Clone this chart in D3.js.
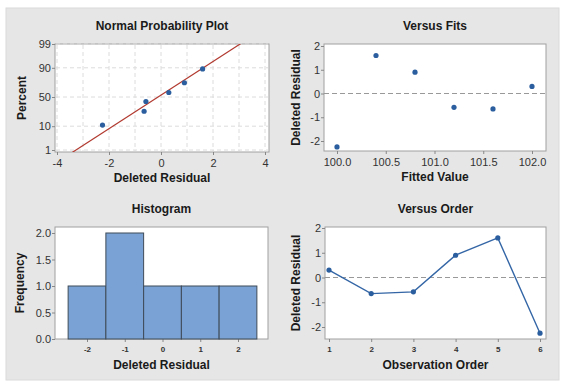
<!DOCTYPE html>
<html lang="en">
<head>
    <meta charset="UTF-8">
    <title>Residual Plots</title>
    <script src="https://d3js.org/d3.v7.min.js"></script>
    <style>
        body{
            margin: 0;
            background: #fff;
        }
        text {
            font-family: 'Liberation Sans', Arial, sans-serif;
        }
        .title, .axis-label {
            font-weight: bold;
            font-size: 12px;
            fill: #1a1a1a;
            text-anchor: middle;
        }
        .tick text {
            font-size: 11px;
            fill: #333;
        }
        .small .tick text {
            font-size: 8px;
            font-weight: bold;
        }
        .tick line {
            stroke: #888;
        }
        .frame {
            fill: #fff;
            stroke: #a0a0a0;
        }
        .grid {
            stroke: #dcdcdc;
            stroke-dasharray: 4,3;
        }
        .zero {
            stroke: #999;
            stroke-dasharray: 5,3;
        }
        .dot {
            fill: #2b5e9e;
        }
    </style>
</head>
<body>
    <svg id="chart"></svg>

    <script>
        // Deleted residuals in observation order
        const residuals = [0.3, -0.65, -0.58, 0.9, 1.6, -2.25];
        const observation = [1, 2, 3, 4, 5, 6];
        const fittedValues = [102.0, 101.6, 101.2, 100.8, 100.4, 100.0];

        // Normal probability plot: sorted residuals and plotted percent
        const npResiduals = [-2.25, -0.65, -0.58, 0.3, 0.9, 1.6];
        const npPercent = [10.9, 26.6, 42.2, 57.8, 73.4, 89.1];

        // Tick labels
        const percentTicks = [1, 10, 50, 90, 99];
        const npXTicks = [-4, -2, 0, 2, 4];
        const fitTicks = [100.0, 100.5, 101.0, 101.5, 102.0];
        const residTicks = [-2, -1, 0, 1, 2];
        const freqTicks = [0, 0.5, 1, 1.5, 2];
        const binCenters = [-2, -1, 0, 1, 2];

        const W = 571, H = 387;
        const svg = d3.select("#chart").attr("width", W).attr("height", H);

        // gray panel background
        svg.append("rect")
            .attr("x", 6).attr("y", 8).attr("width", 553).attr("height", 372)
            .attr("fill", "#e6e6e6").attr("stroke", "#dadada");

        // inverse normal CDF (Acklam)
        function probit(p) {
            const a = [-39.6968302866538, 220.946098424521, -275.928510446969, 138.357751867269, -30.6647980661472, 2.50662827745924];
            const b = [-54.4760987982241, 161.585836858041, -155.698979859887, 66.8013118877197, -13.2806815528857];
            const c = [-0.00778489400243029, -0.322396458041136, -2.40075827716184, -2.54973253934373, 4.37466414146497, 2.93816398269878];
            const d = [0.00778469570904146, 0.32246712907004, 2.445134137143, 3.75440866190742];
            const pl = 0.02425;
            let q, r;
            if (p < pl) {
                q = Math.sqrt(-2 * Math.log(p));
                return (((((c[0]*q+c[1])*q+c[2])*q+c[3])*q+c[4])*q+c[5]) / ((((d[0]*q+d[1])*q+d[2])*q+d[3])*q+1);
            } else if (p <= 1 - pl) {
                q = p - 0.5; r = q * q;
                return (((((a[0]*r+a[1])*r+a[2])*r+a[3])*r+a[4])*r+a[5])*q / (((((b[0]*r+b[1])*r+b[2])*r+b[3])*r+b[4])*r+1);
            }
            q = Math.sqrt(-2 * Math.log(1 - p));
            return -(((((c[0]*q+c[1])*q+c[2])*q+c[3])*q+c[4])*q+c[5]) / ((((d[0]*q+d[1])*q+d[2])*q+d[3])*q+1);
        }

        // draws frame, axes, title and labels for one panel
        function panel(box, x, y, xTickVals, yTickVals, opts) {
            const g = svg.append("g");
            g.append("rect").attr("class", "frame")
                .attr("x", box.x0).attr("y", box.y0)
                .attr("width", box.x1 - box.x0).attr("height", box.y1 - box.y0);

            const xAxis = g.append("g")
                .attr("transform", `translate(0,${box.y1})`)
                .attr("class", opts.smallX ? "small" : "")
                .call(d3.axisBottom(x).tickValues(xTickVals).tickSize(3).tickSizeOuter(0)
                    .tickFormat(opts.xFormat || (d => d)));
            xAxis.select(".domain").remove();
            xAxis.selectAll(".tick text").attr("dy", opts.smallX ? "0.9em" : "0.8em");

            const yAxis = g.append("g")
                .attr("transform", `translate(${box.x0},0)`)
                .call(d3.axisLeft(y).tickValues(yTickVals).tickSize(3).tickSizeOuter(0)
                    .tickFormat(opts.yFormat || (d => d)));
            yAxis.select(".domain").remove();
            yAxis.selectAll(".tick text").attr("x", -4);

            const cx = (box.x0 + box.x1) / 2, cy = (box.y0 + box.y1) / 2;
            g.append("text").attr("class", "title")
                .attr("x", cx).attr("y", box.y0 - 14).text(opts.title);
            g.append("text").attr("class", "axis-label")
                .attr("x", cx).attr("y", box.y1 + 30).text(opts.xLabel);
            g.append("text").attr("class", "axis-label")
                .attr("transform", `translate(${opts.yLabelX},${cy}) rotate(-90)`)
                .text(opts.yLabel);
            return g;
        }

        // ---- Normal Probability Plot ----
        const npBox = {x0: 55, x1: 269, y0: 44, y1: 152};
        const npX = d3.scaleLinear().domain([-4, 4]).range([57, 265]);
        const npY = d3.scaleLinear().domain([probit(0.01), probit(0.99)]).range([150, 44]);
        const np = panel(npBox, npX, npY, npXTicks, percentTicks.map(p => probit(p / 100)), {
            title: "Normal Probability Plot", xLabel: "Deleted Residual", yLabel: "Percent",
            yLabelX: 26, yFormat: (d, i) => percentTicks[i]
        });
        np.append("g").selectAll("line.v")
            .data(d3.range(-4, 5))
            .join("line").attr("class", "grid")
            .attr("x1", d => npX(d)).attr("x2", d => npX(d))
            .attr("y1", npBox.y0 + 1).attr("y2", npBox.y1 - 1);
        np.append("g").selectAll("line.h")
            .data(percentTicks)
            .join("line").attr("class", "grid")
            .attr("y1", d => npY(probit(d / 100))).attr("y2", d => npY(probit(d / 100)))
            .attr("x1", npBox.x0 + 1).attr("x2", npBox.x1 - 1);

        // fitted normal line from the residuals' mean and sd
        const mu = d3.mean(residuals), sd = d3.deviation(residuals);
        const zLo = npY.invert(npBox.y1 + 5), zHi = npY.invert(npBox.y0 - 5);
        svg.append("clipPath").attr("id", "npClip").append("rect")
            .attr("x", npBox.x0).attr("y", npBox.y0)
            .attr("width", npBox.x1 - npBox.x0).attr("height", npBox.y1 - npBox.y0);
        np.append("line")
            .attr("clip-path", "url(#npClip)")
            .attr("x1", npX(mu + zLo * sd)).attr("y1", npY(zLo))
            .attr("x2", npX(mu + zHi * sd)).attr("y2", npY(zHi))
            .attr("stroke", "#b23a30").attr("stroke-width", 1.2);
        np.append("g").selectAll("circle")
            .data(npResiduals)
            .join("circle").attr("class", "dot").attr("r", 2.6)
            .attr("cx", d => npX(d))
            .attr("cy", (d, i) => npY(probit(npPercent[i] / 100)));

        // ---- Versus Fits ----
        const vfBox = {x0: 324, x1: 546, y0: 44, y1: 151};
        const vfX = d3.scaleLinear().domain([100.0, 102.0]).range([337, 532]);
        const vfY = d3.scaleLinear().domain([-2, 2]).range([141, 46]);
        const vf = panel(vfBox, vfX, vfY, fitTicks, residTicks, {
            title: "Versus Fits", xLabel: "Fitted Value", yLabel: "Deleted Residual",
            yLabelX: 300, xFormat: d3.format(".1f")
        });
        vf.append("line").attr("class", "zero")
            .attr("x1", vfBox.x0).attr("x2", vfBox.x1)
            .attr("y1", vfY(0)).attr("y2", vfY(0));
        vf.append("g").selectAll("circle")
            .data(residuals)
            .join("circle").attr("class", "dot").attr("r", 2.6)
            .attr("cx", (d, i) => vfX(fittedValues[i]))
            .attr("cy", d => vfY(d));

        // ---- Histogram ----
        const hBox = {x0: 55, x1: 268, y0: 227, y1: 339};
        const hX = d3.scaleLinear().domain([-2, 2]).range([87, 238]);
        const bins = d3.bin().domain([-2.5, 2.5]).thresholds(d3.range(-1.5, 2.5, 1))(residuals);
        const hY = d3.scaleLinear().domain([0, 2]).range([339, 233]);
        const hist = panel(hBox, hX, hY, binCenters, freqTicks, {
            title: "Histogram", xLabel: "Deleted Residual", yLabel: "Frequency",
            yLabelX: 24, smallX: true, yFormat: d3.format(".1f")
        });
        hist.append("g").selectAll("rect")
            .data(bins)
            .join("rect")
            .attr("x", d => hX(d.x0)).attr("width", d => hX(d.x1) - hX(d.x0))
            .attr("y", d => hY(d.length)).attr("height", d => hY(0) - hY(d.length))
            .attr("fill", "#7aa2d4").attr("stroke", "#3f4b58").attr("stroke-width", 1);

        // ---- Versus Order ----
        const voBox = {x0: 325, x1: 546, y0: 227, y1: 339};
        const voX = d3.scaleLinear().domain([1, 6]).range([329, 540]);
        const voY = d3.scaleLinear().domain([-2, 2]).range([327, 228]);
        const vo = panel(voBox, voX, voY, observation, residTicks, {
            title: "Versus Order", xLabel: "Observation Order", yLabel: "Deleted Residual",
            yLabelX: 300, smallX: true
        });
        vo.append("line").attr("class", "zero")
            .attr("x1", voBox.x0).attr("x2", voBox.x1)
            .attr("y1", voY(0)).attr("y2", voY(0));
        vo.append("path")
            .datum(residuals)
            .attr("fill", "none").attr("stroke", "#3466a6").attr("stroke-width", 1.4)
            .attr("d", d3.line().x((d, i) => voX(observation[i])).y(d => voY(d)));
        vo.append("g").selectAll("circle")
            .data(residuals)
            .join("circle").attr("class", "dot").attr("r", 2.6)
            .attr("cx", (d, i) => voX(observation[i]))
            .attr("cy", d => voY(d));
    </script>
</body>
</html>
